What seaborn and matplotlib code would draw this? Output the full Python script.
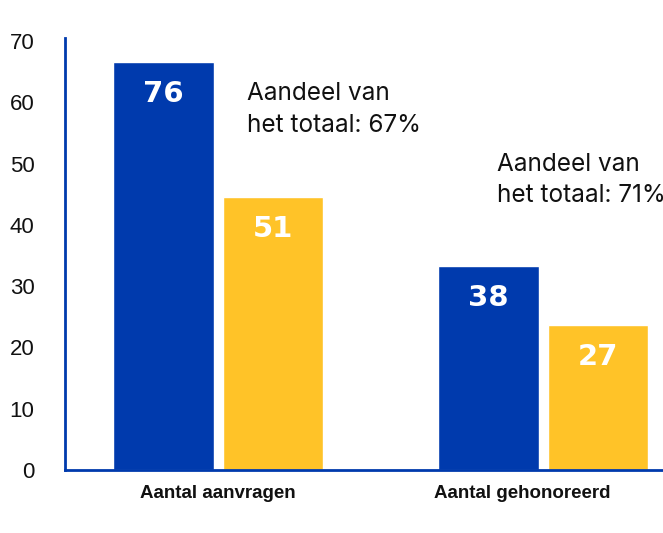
import matplotlib
matplotlib.use("Agg")
import matplotlib.pyplot as plt
import matplotlib.transforms as mtransforms
import seaborn as sns
import pandas as pd
import numpy as np

categories = ["Aantal aanvragen", "Aantal gehonoreerd"]
series_names = ["Totaal", "Deel"]
blue_values = [76, 38]
yellow_values = [51, 27]
tick_values = [0, 10, 20, 30, 40, 50, 60, 70]
annotations = ["Aandeel van\nhet totaal: 67%", "Aandeel van\nhet totaal: 71%"]

BLUE = "#003AAD"
YELLOW = "#FFC328"

df = pd.DataFrame({
    "categorie": categories * 2,
    "reeks": [series_names[0]] * 2 + [series_names[1]] * 2,
    "waarde": blue_values + yellow_values,
})

sns.set_theme(style="white")
plt.rcParams["font.family"] = ["Liberation Sans", "DejaVu Sans"]

fig = plt.figure(figsize=(6.63, 5.33), dpi=100)
ax = fig.add_axes([65 / 663, 1 - 470 / 533, 1 - 65 / 663, (470 - 38) / 533])

sns.barplot(data=df, x="categorie", y="waarde", hue="reeks",
            palette=[BLUE, YELLOW], width=0.672, gap=0.083,
            saturation=1, ax=ax, legend=False)

ax.set_xlim(-0.471, 1.369)
ymax = 80
ax.set_ylim(0, ymax * (470 - 38) / 429)
ax.set_yticks(np.linspace(0, ymax, len(tick_values)))
ax.set_yticklabels([str(t) for t in tick_values], fontsize=16, color="#111111")
ax.tick_params(axis="y", length=0, pad=22)
ax.tick_params(axis="x", length=0, pad=11)
ax.set_xlabel("")
ax.set_ylabel("")

for lab in ax.get_xticklabels():
    lab.set_fontfamily(["Liberation Sans", "DejaVu Sans"])
    lab.set_fontsize(13.5)
    lab.set_fontweight("bold")
    lab.set_color("#111111")
labs = ax.get_xticklabels()
labs[1].set_transform(labs[1].get_transform() +
                      mtransforms.ScaledTranslation(-21 / 100, 0, fig.dpi_scale_trans))

for s in ["top", "right"]:
    ax.spines[s].set_visible(False)
for s in ["left", "bottom"]:
    ax.spines[s].set_color(BLUE)
    ax.spines[s].set_linewidth(2)

for cont in ax.containers:
    for bar in cont:
        h = bar.get_height()
        ax.annotate(f"{h:.0f}", (bar.get_x() + bar.get_width() / 2, h),
                    xytext=(0, -32), textcoords="offset pixels",
                    ha="center", va="center", color="white", fontsize=21,
                    fontweight="bold", family=["DejaVu Sans"])

# share annotations placed relative to the top-right corner of each blue bar
annotation_offsets = [(33, -47), (-42, 86)]
blue_cont = ax.containers[0]
for i, bar in enumerate(blue_cont):
    h = bar.get_height()
    ax.annotate(annotations[i], (bar.get_x() + bar.get_width(), h),
                xytext=annotation_offsets[i], textcoords="offset pixels",
                ha="left", va="center", fontsize=17.5, color="#111111",
                family=["Inter", "DejaVu Sans"], linespacing=1.45,
                annotation_clip=False)

fig.savefig("out.png", dpi=100)
